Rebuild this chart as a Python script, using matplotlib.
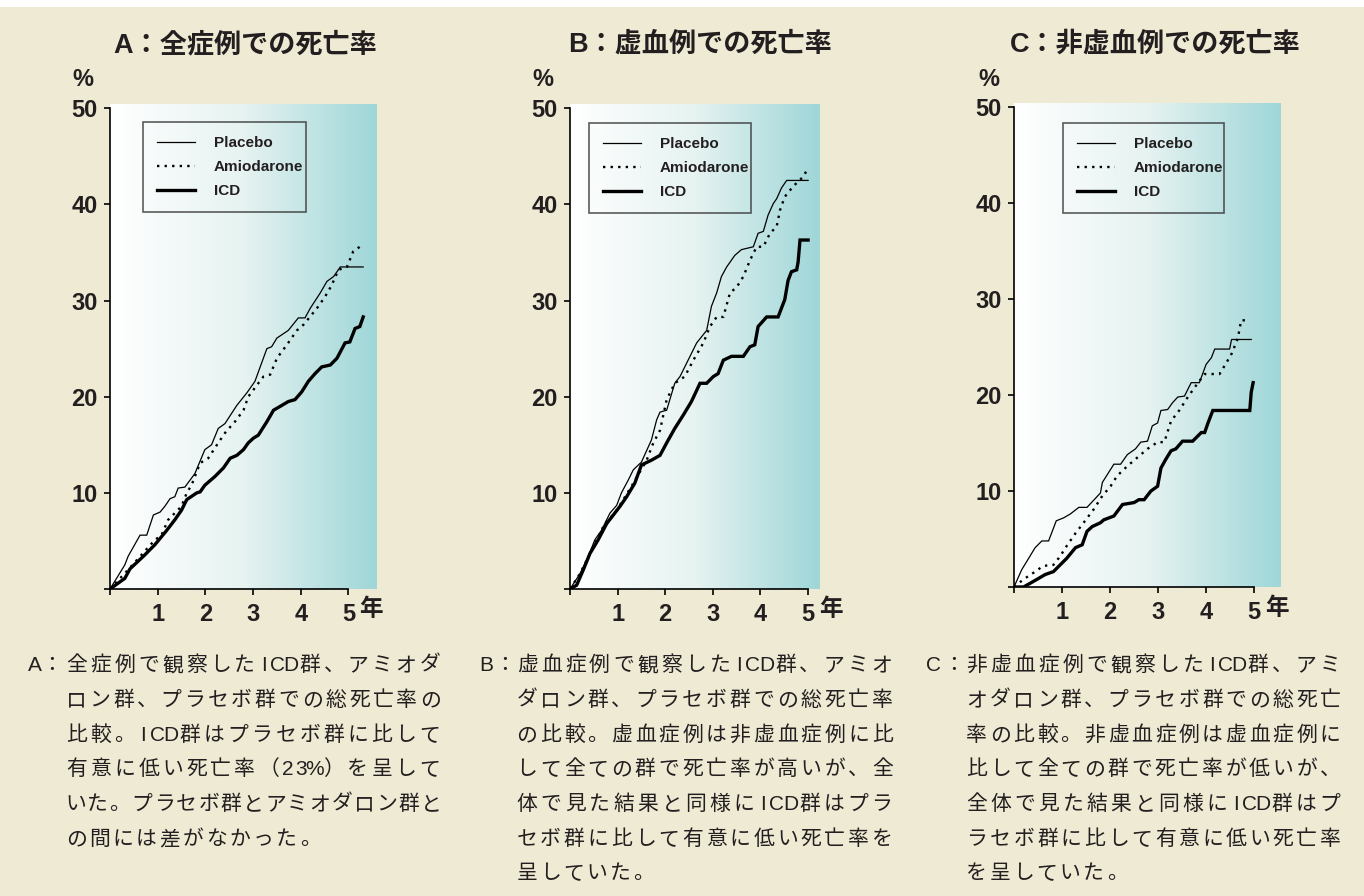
import numpy as np
import matplotlib
matplotlib.use("Agg")
from matplotlib import pyplot as plt
from matplotlib.colors import LinearSegmentedColormap
from matplotlib.patches import Rectangle

plt.rcParams['font.family'] = ['Liberation Sans', 'Noto Sans CJK JP', 'DejaVu Sans']

# ---- data (years, cumulative mortality %) ----
A_placebo_x = [0, 0.31, 0.38, 0.63, 0.77, 0.91, 1.05, 1.15, 1.26, 1.36, 1.43, 1.57, 1.78, 1.99, 2.13, 2.27, 2.41, 2.66, 2.87,
               3.04, 3.15, 3.29, 3.39, 3.50, 3.74, 3.95, 4.09, 4.20, 4.41, 4.55, 4.69, 4.83, 5.31]
A_placebo_y = [0, 2.5, 3.4, 5.6, 5.6, 7.7, 8.0, 8.6, 9.4, 9.6, 10.5, 10.6, 12.0, 14.5, 15.0, 16.7, 17.2, 19.1, 20.4,
               21.6, 23.1, 25.0, 25.2, 26.1, 26.9, 28.2, 28.2, 29.2, 30.8, 32.0, 32.5, 33.5, 33.5]
A_amio_x = [0, 0.38, 0.94, 1.08, 1.22, 1.36, 1.50, 1.61, 1.71, 1.89, 2.06, 2.27, 2.45, 2.59, 2.80, 2.90, 3.11, 3.22,
            3.36, 3.50, 3.71, 3.92, 4.06, 4.34, 4.51, 4.65, 4.79, 4.97, 5.10, 5.24]
A_amio_y = [0, 2.0, 5.1, 5.6, 7.2, 7.9, 8.6, 10.0, 10.8, 13.1, 13.6, 15.2, 16.5, 17.2, 18.6, 20.0, 21.4, 22.1,
            22.3, 24.0, 25.4, 26.9, 27.5, 29.2, 30.4, 31.6, 33.2, 33.5, 35.1, 35.6]
A_icd_x = [0, 0.31, 0.42, 0.70, 0.94, 1.19, 1.36, 1.50, 1.61, 1.82, 1.89, 1.99, 2.20, 2.38, 2.52, 2.66, 2.80, 2.90,
           3.01, 3.11, 3.29, 3.43, 3.57, 3.74, 3.88, 4.02, 4.16, 4.30, 4.44, 4.62, 4.76, 4.93, 5.03, 5.14, 5.24, 5.31]
A_icd_y = [0, 1.1, 2.1, 3.4, 4.6, 6.1, 7.2, 8.2, 9.3, 10.0, 10.1, 10.8, 11.7, 12.6, 13.6, 13.9, 14.5, 15.2,
           15.7, 16.0, 17.4, 18.6, 19.0, 19.5, 19.7, 20.5, 21.6, 22.4, 23.1, 23.3, 24.0, 25.6, 25.7, 27.1, 27.3, 28.3]

B_placebo_x = [0, 0.21, 0.35, 0.52, 0.66, 0.84, 0.98, 1.08, 1.22, 1.33, 1.50, 1.71, 1.82, 1.89, 2.03, 2.20, 2.31, 2.52,
               2.66, 2.87, 2.97, 3.08, 3.18, 3.29, 3.46, 3.60, 3.85, 3.95, 4.06, 4.16, 4.27, 4.34, 4.44, 4.55, 5.00]
B_placebo_y = [0, 1.6, 3.0, 5.1, 6.1, 7.9, 8.7, 10.0, 11.3, 12.4, 13.2, 15.5, 17.6, 18.4, 18.6, 21.4, 22.1, 24.2,
               25.6, 26.9, 29.4, 30.8, 32.5, 33.5, 34.7, 35.3, 35.6, 37.0, 37.2, 38.9, 40.1, 40.6, 41.7, 42.5, 42.5]
B_amio_x = [0, 0.21, 0.42, 0.59, 0.73, 0.94, 1.12, 1.33, 1.47, 1.61, 1.75, 1.89, 2.03, 2.20, 2.41, 2.59, 2.80, 2.94,
            3.08, 3.22, 3.36, 3.50, 3.64, 3.78, 3.92, 4.06, 4.20, 4.34, 4.41, 4.51, 4.69, 4.90, 5.00]
B_amio_y = [0, 1.6, 3.7, 5.4, 6.8, 7.9, 9.3, 11.0, 12.2, 13.4, 15.2, 16.5, 19.7, 21.4, 22.1, 23.8, 25.6, 27.3,
            28.3, 28.3, 30.8, 31.4, 32.5, 34.2, 35.6, 35.6, 37.0, 37.7, 39.4, 40.8, 41.9, 42.9, 43.8]
B_icd_x = [0, 0.14, 0.28, 0.42, 0.59, 0.77, 0.91, 1.05, 1.19, 1.36, 1.50, 1.71, 1.89, 2.03, 2.20, 2.38, 2.55, 2.73,
           2.87, 3.01, 3.11, 3.22, 3.39, 3.64, 3.78, 3.88, 3.95, 4.13, 4.37, 4.44, 4.51, 4.58, 4.65, 4.76, 4.79, 4.83, 5.00]
B_icd_y = [0, 0.4, 2.0, 3.7, 5.1, 6.8, 7.7, 8.6, 9.6, 11.0, 12.9, 13.4, 13.9, 15.2, 16.7, 18.1, 19.5, 21.4,
           21.4, 22.1, 22.4, 23.8, 24.2, 24.2, 25.2, 25.4, 27.3, 28.3, 28.3, 29.2, 30.1, 32.1, 33.0, 33.2, 34.0, 36.3, 36.3]

C_placebo_x = [0, 0.16, 0.27, 0.44, 0.58, 0.72, 0.88, 1.03, 1.17, 1.35, 1.52, 1.80, 1.84, 2.08, 2.22, 2.36, 2.53, 2.64,
               2.78, 2.88, 2.99, 3.06, 3.20, 3.30, 3.41, 3.55, 3.69, 3.86, 4.00, 4.11, 4.18, 4.49, 4.53, 4.94]
C_placebo_y = [0, 1.8, 2.7, 4.1, 4.8, 4.8, 6.9, 7.2, 7.6, 8.3, 8.3, 9.8, 10.9, 12.8, 12.8, 13.8, 14.4, 15.1,
               15.2, 16.8, 17.1, 18.4, 18.5, 19.2, 19.8, 19.9, 21.3, 21.3, 23.2, 23.9, 24.8, 24.8, 25.8, 25.8]
C_amio_x = [0, 0.20, 0.41, 0.61, 0.82, 0.96, 1.10, 1.28, 1.45, 1.66, 1.84, 2.01, 2.15, 2.36, 2.57, 2.78, 2.99, 3.13,
            3.27, 3.44, 3.62, 3.79, 3.97, 4.28, 4.39, 4.53, 4.66, 4.73, 4.87]
C_amio_y = [0, 0.8, 1.5, 2.2, 2.3, 3.2, 4.3, 5.6, 6.7, 8.1, 9.5, 10.5, 11.6, 12.6, 13.5, 14.4, 15.1, 15.1,
            17.3, 18.4, 19.8, 21.0, 22.2, 22.2, 23.1, 24.3, 25.9, 27.8, 27.8]
C_icd_x = [0, 0.20, 0.41, 0.65, 0.82, 1.00, 1.10, 1.28, 1.42, 1.52, 1.63, 1.80, 1.87, 2.08, 2.26, 2.50, 2.60, 2.71,
           2.85, 2.99, 3.06, 3.16, 3.27, 3.37, 3.51, 3.72, 3.90, 3.97, 4.04, 4.14, 4.91, 4.94, 4.98]
C_icd_y = [0, 0, 0.6, 1.3, 1.6, 2.5, 3.0, 4.1, 4.4, 5.8, 6.3, 6.7, 7.0, 7.4, 8.6, 8.8, 9.1, 9.1,
           10.0, 10.5, 12.4, 13.3, 14.2, 14.4, 15.2, 15.2, 16.1, 16.1, 17.1, 18.4, 18.4, 20.3, 21.3]

series_names = ['Placebo', 'Amiodarone', 'ICD']
y_ticks = [10, 20, 30, 40, 50]
x_ticks = [1, 2, 3, 4, 5]

titles = ['A：全症例での死亡率', 'B：虚血例での死亡率', 'C：非虚血例での死亡率']

caption_A = ['全症例で観察したICD群、アミオダ',
             'ロン群、プラセボ群での総死亡率の',
             '比較。ICD群はプラセボ群に比して',
             '有意に低い死亡率（23%）を呈して',
             'いた。プラセボ群とアミオダロン群と',
             'の間には差がなかった。']
caption_B = ['虚血症例で観察したICD群、アミオ',
             'ダロン群、プラセボ群での総死亡率',
             'の比較。虚血症例は非虚血症例に比',
             'して全ての群で死亡率が高いが、全',
             '体で見た結果と同様にICD群はプラ',
             'セボ群に比して有意に低い死亡率を',
             '呈していた。']
caption_C = ['非虚血症例で観察したICD群、アミ',
             'オダロン群、プラセボ群での総死亡',
             '率の比較。非虚血症例は虚血症例に',
             '比して全ての群で死亡率が低いが、',
             '全体で見た結果と同様にICD群はプ',
             'ラセボ群に比して有意に低い死亡率',
             'を呈していた。']

# ---- layout ----
W, H = 1364, 896
BG = '#eeead3'
TEAL = '#9fd6d8'
INK = '#231f20'

fig = plt.figure(figsize=(W / 100, H / 100), dpi=100, facecolor=BG)
fig.patches.append(Rectangle((0, 1 - 7 / H), 1, 7 / H, transform=fig.transFigure,
                             facecolor='white', edgecolor='none', zorder=0))

grad = LinearSegmentedColormap.from_list('grad', ['#ffffff', '#e6f3f1', TEAL])

panels = [
    # axes box in px, x range, legend box (axes fraction), title / % centres in px
    dict(l=110, r=377, t=104, b=589, xmax=5.6, lx=0.124, lw=0.610, lt=0.963, tcx=245, pcx=83,
         data=[(A_placebo_x, A_placebo_y), (A_amio_x, A_amio_y), (A_icd_x, A_icd_y)]),
    dict(l=570, r=820, t=104, b=589, xmax=5.25, lx=0.076, lw=0.648, lt=0.961, tcx=700, pcx=543,
         data=[(B_placebo_x, B_placebo_y), (B_amio_x, B_amio_y), (B_icd_x, B_icd_y)]),
    dict(l=1014, r=1281, t=103, b=587, xmax=5.56, lx=0.184, lw=0.603, lt=0.959, tcx=1155, pcx=989,
         data=[(C_placebo_x, C_placebo_y), (C_amio_x, C_amio_y), (C_icd_x, C_icd_y)]),
]

styles = [dict(lw=0.9, ls='-'), dict(lw=1.7, ls=(0, (1, 2.2))), dict(lw=2.4, ls='-')]

for i, p in enumerate(panels):
    ax = fig.add_axes([p['l'] / W, 1 - p['b'] / H, (p['r'] - p['l']) / W, (p['b'] - p['t']) / H])
    ax.set_facecolor('none')
    ymax = 50.45
    ax.imshow(np.linspace(0, 1, 256).reshape(1, -1), cmap=grad, aspect='auto',
              extent=[0, p['xmax'], 0, ymax], zorder=0)
    for (xs, ys), name, st in zip(p['data'], series_names, styles):
        ax.plot(xs, ys, color='black', lw=st['lw'], ls=st['ls'], label=name, zorder=3,
                solid_joinstyle='miter')
    ax.set_xlim(0, p['xmax'])
    ax.set_ylim(0, ymax)
    for s in ['top', 'right']:
        ax.spines[s].set_visible(False)
    ax.spines['left'].set_bounds(0, 50)
    ax.spines['bottom'].set_bounds(0, 5)
    for s in ['left', 'bottom']:
        ax.spines[s].set_linewidth(1.2)
        ax.spines[s].set_color('black')
        ax.spines[s].set_zorder(4)
    ax.set_yticks([0] + y_ticks)
    ax.set_yticklabels([''] + [str(v) for v in y_ticks])
    ax.set_xticks([0] + x_ticks)
    ax.set_xticklabels([''] + [str(v) for v in x_ticks])
    ax.tick_params(axis='both', length=4, width=1.2, color='black', labelsize=17, labelcolor=INK)
    ax.tick_params(axis='y', pad=5)
    ax.tick_params(axis='x', pad=6)
    for lab in ax.get_xticklabels() + ax.get_yticklabels():
        lab.set_fontweight('bold')
    ax.annotate('年', xy=(5, 0), xytext=(23, -21), textcoords='offset pixels',
                ha='center', va='center', fontsize=17, fontweight='bold', color=INK,
                annotation_clip=False)

    leg = ax.legend(loc='upper left', bbox_to_anchor=(p['lx'], p['lt'] - 0.3, p['lw'], 0.3),
                    mode='expand', borderaxespad=0, frameon=True, fancybox=False,
                    prop=dict(weight='bold', size=11), handlelength=2.5,
                    handletextpad=1.2, labelspacing=0.66, borderpad=0.92)
    leg.get_frame().set_edgecolor('#333333')
    leg.get_frame().set_linewidth(1.2)
    leg.get_frame().set_facecolor('none')
    for t in leg.get_texts():
        t.set_color(INK)

    fig.text(p['tcx'] / W, 1 - 45 / H, titles[i], ha='center', va='center',
             fontsize=19.5, fontweight='bold', color=INK)
    fig.text(p['pcx'] / W, 1 - 80 / H, '%', ha='center', va='center',
             fontsize=17, fontweight='bold', color=INK)


# ---- captions, laid out on a justified character grid ----
def put_caption(letter, lcx, ccx, x0, x1, lines):
    line_y = [663, 698, 733, 767, 802, 837, 871]
    size = 15
    base = 8
    fig.text(lcx / W, 1 - (line_y[0] + base) / H, letter, ha='center', va='baseline',
             fontsize=size, color=INK)
    fig.text(ccx / W, 1 - (line_y[0] + base) / H, '：', ha='center', va='baseline',
             fontsize=size, color=INK)
    for k, line in enumerate(lines):
        units = [1.0 if ord(c) > 0x2000 else 0.57 for c in line]
        if k < len(lines) - 1:
            step = (x1 - x0) / sum(units)
        else:
            step = 23.4
        x = x0
        for c, u in zip(line, units):
            fig.text((x + u * step / 2) / W, 1 - (line_y[k] + base) / H, c, ha='center',
                     va='baseline', fontsize=size, color=INK)
            x += u * step


put_caption('A', 35, 52, 64.5, 442, caption_A)
put_caption('B', 486, 505, 515, 894, caption_B)
put_caption('C', 934, 954, 965, 1342, caption_C)

fig.savefig('out.png', dpi=100, facecolor=BG)
